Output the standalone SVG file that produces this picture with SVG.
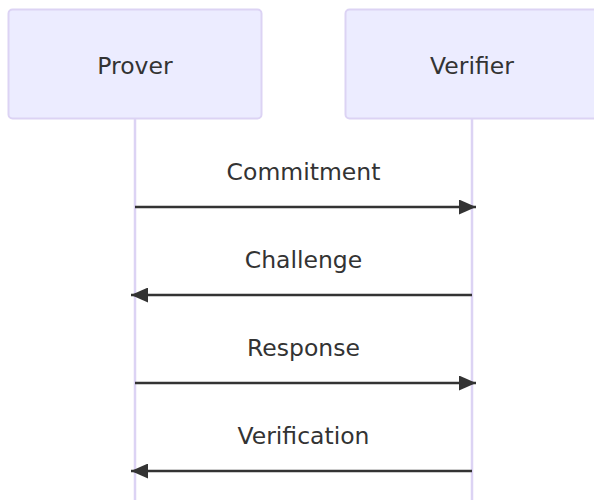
<svg xmlns="http://www.w3.org/2000/svg" width="594" height="500" viewBox="0 0 594 500">
  <style>
    .actor { fill: #ECECFF; stroke: #DCD3F4; stroke-width: 2; }
    .lifeline { stroke: #DCD3F4; stroke-width: 2.5; fill: none; }
    .label { font-family: "DejaVu Sans", Verdana, sans-serif; font-size: 23.5px; fill: #333333; text-anchor: middle; }
    .msg { stroke: #333333; stroke-width: 2.4; fill: none; }
  </style>
  <defs>
    <marker id="head" viewBox="0 0 17 15" refX="17" refY="7.5" markerWidth="17" markerHeight="15" markerUnits="userSpaceOnUse" orient="auto">
      <path d="M0,0 L17,7.5 L0,15 z" fill="#333333"/>
    </marker>
  </defs>

  <!-- lifelines -->
  <g id="lifelines">
    <line class="lifeline" x1="135" y1="119" x2="135" y2="500"/>
    <line class="lifeline" x1="472" y1="119" x2="472" y2="500"/>
  </g>

  <g id="prover">
    <rect class="actor" x="8.5" y="9.5" width="253" height="109" rx="4" ry="4"/>
    <text class="label" x="135" y="74">Prover</text>
  </g>

  <g id="verifier">
    <rect class="actor" x="345.5" y="9.5" width="253" height="109" rx="4" ry="4"/>
    <text class="label" x="472" y="74">Verifier</text>
  </g>

  <!-- messages -->
  <g id="connectors">
    <line class="msg" x1="135" y1="207" x2="476" y2="207" marker-end="url(#head)"/>
    <text class="label" x="303.5" y="180">Commitment</text>

    <line class="msg" x1="472" y1="295" x2="131" y2="295" marker-end="url(#head)"/>
    <text class="label" x="303.5" y="268">Challenge</text>

    <line class="msg" x1="135" y1="383" x2="476" y2="383" marker-end="url(#head)"/>
    <text class="label" x="303.5" y="356">Response</text>

    <line class="msg" x1="472" y1="471" x2="131" y2="471" marker-end="url(#head)"/>
    <text class="label" x="303.5" y="444">Verification</text>
  </g>
</svg>
